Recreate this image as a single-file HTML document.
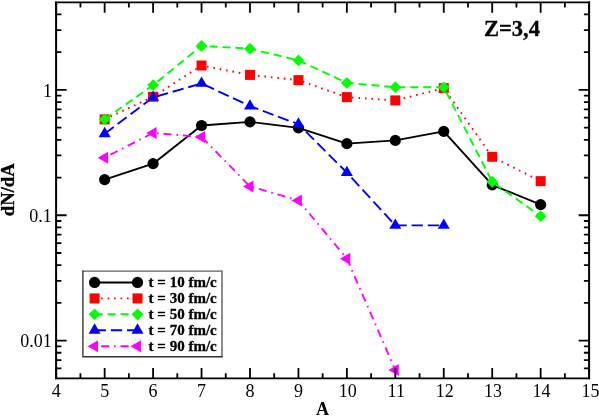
<!DOCTYPE html>
<html><head><meta charset="utf-8"><title>chart</title>
<style>html,body{margin:0;padding:0;background:#fff;}svg{display:block;will-change:transform;}</style>
</head><body>
<svg width="599" height="416" viewBox="0 0 599 416">
<rect width="599" height="416" fill="#ffffff"/>
<polyline points="104.65,179.65 153.09,163.65 201.54,125.50 249.98,121.90 298.43,127.90 346.87,143.65 395.32,140.40 443.76,131.40 492.21,184.90 540.65,204.65" fill="none" stroke="#000000" stroke-width="1.9" stroke-linejoin="round"/>
<circle cx="104.65" cy="179.65" r="5.6" fill="#000000"/>
<circle cx="153.09" cy="163.65" r="5.6" fill="#000000"/>
<circle cx="201.54" cy="125.50" r="5.6" fill="#000000"/>
<circle cx="249.98" cy="121.90" r="5.6" fill="#000000"/>
<circle cx="298.43" cy="127.90" r="5.6" fill="#000000"/>
<circle cx="346.87" cy="143.65" r="5.6" fill="#000000"/>
<circle cx="395.32" cy="140.40" r="5.6" fill="#000000"/>
<circle cx="443.76" cy="131.40" r="5.6" fill="#000000"/>
<circle cx="492.21" cy="184.90" r="5.6" fill="#000000"/>
<circle cx="540.65" cy="204.65" r="5.6" fill="#000000"/>
<polyline points="104.65,119.40 153.09,96.75 201.54,65.50 249.98,74.90 298.43,80.15 346.87,97.15 395.32,100.40 443.76,88.15 492.21,156.80 540.65,181.15" fill="none" stroke="#ff0000" stroke-width="1.9" stroke-dasharray="1.62 4.86" stroke-linejoin="round"/>
<rect x="99.65" y="114.40" width="10.0" height="10.0" fill="#ff0000"/>
<rect x="148.09" y="91.75" width="10.0" height="10.0" fill="#ff0000"/>
<rect x="196.54" y="60.50" width="10.0" height="10.0" fill="#ff0000"/>
<rect x="244.98" y="69.90" width="10.0" height="10.0" fill="#ff0000"/>
<rect x="293.43" y="75.15" width="10.0" height="10.0" fill="#ff0000"/>
<rect x="341.87" y="92.15" width="10.0" height="10.0" fill="#ff0000"/>
<rect x="390.32" y="95.40" width="10.0" height="10.0" fill="#ff0000"/>
<rect x="438.76" y="83.15" width="10.0" height="10.0" fill="#ff0000"/>
<rect x="487.21" y="151.80" width="10.0" height="10.0" fill="#ff0000"/>
<rect x="535.65" y="176.15" width="10.0" height="10.0" fill="#ff0000"/>
<polyline points="104.65,119.30 153.09,85.10 201.54,45.90 249.98,48.65 298.43,60.40 346.87,82.90 395.32,87.15 443.76,87.30 492.21,181.75 540.65,216.15" fill="none" stroke="#00ff00" stroke-width="1.9" stroke-dasharray="8.10 4.86" stroke-linejoin="round"/>
<path d="M98.75 119.30L104.65 113.40L110.55 119.30L104.65 125.20Z" fill="#00ff00"/>
<path d="M147.19 85.10L153.09 79.20L158.99 85.10L153.09 91.00Z" fill="#00ff00"/>
<path d="M195.64 45.90L201.54 40.00L207.44 45.90L201.54 51.80Z" fill="#00ff00"/>
<path d="M244.08 48.65L249.98 42.75L255.88 48.65L249.98 54.55Z" fill="#00ff00"/>
<path d="M292.53 60.40L298.43 54.50L304.33 60.40L298.43 66.30Z" fill="#00ff00"/>
<path d="M340.97 82.90L346.87 77.00L352.77 82.90L346.87 88.80Z" fill="#00ff00"/>
<path d="M389.42 87.15L395.32 81.25L401.22 87.15L395.32 93.05Z" fill="#00ff00"/>
<path d="M437.86 87.30L443.76 81.40L449.66 87.30L443.76 93.20Z" fill="#00ff00"/>
<path d="M486.31 181.75L492.21 175.85L498.11 181.75L492.21 187.65Z" fill="#00ff00"/>
<path d="M534.75 216.15L540.65 210.25L546.55 216.15L540.65 222.05Z" fill="#00ff00"/>
<polyline points="104.65,133.80 153.09,97.40 201.54,83.40 249.98,106.10 298.43,124.20 346.87,172.60 395.32,225.40 443.76,225.40" fill="none" stroke="#0000ff" stroke-width="1.9" stroke-dasharray="11.34 4.86" stroke-linejoin="round"/>
<path d="M104.65 126.87L98.65 137.26L110.65 137.26Z" fill="#0000ff"/>
<path d="M153.09 90.47L147.09 100.86L159.09 100.86Z" fill="#0000ff"/>
<path d="M201.54 76.47L195.54 86.86L207.54 86.86Z" fill="#0000ff"/>
<path d="M249.98 99.17L243.98 109.56L255.98 109.56Z" fill="#0000ff"/>
<path d="M298.43 117.27L292.43 127.66L304.43 127.66Z" fill="#0000ff"/>
<path d="M346.87 165.67L340.87 176.06L352.87 176.06Z" fill="#0000ff"/>
<path d="M395.32 218.47L389.32 228.86L401.32 228.86Z" fill="#0000ff"/>
<path d="M443.76 218.47L437.76 228.86L449.76 228.86Z" fill="#0000ff"/>
<polyline points="104.65,157.65 153.09,132.90 201.54,136.90 249.98,186.40 298.43,200.40 346.87,258.65 395.32,370.10" fill="none" stroke="#ff00ff" stroke-width="1.9" stroke-dasharray="1.62 4.86 8.10 4.86" stroke-linejoin="round"/>
<path d="M97.72 157.65L108.11 151.65L108.11 163.65Z" fill="#ff00ff"/>
<path d="M146.16 132.90L156.56 126.90L156.56 138.90Z" fill="#ff00ff"/>
<path d="M194.61 136.90L205.00 130.90L205.00 142.90Z" fill="#ff00ff"/>
<path d="M243.05 186.40L253.45 180.40L253.45 192.40Z" fill="#ff00ff"/>
<path d="M291.50 200.40L301.89 194.40L301.89 206.40Z" fill="#ff00ff"/>
<path d="M339.94 258.65L350.34 252.65L350.34 264.65Z" fill="#ff00ff"/>
<path d="M388.39 370.10L398.78 364.10L398.78 376.10Z" fill="#ff00ff"/>
<path d="M56.20 378.35v-10.4M56.20 2.3v10.4M80.42 378.35v-5.2M80.42 2.3v5.2M104.65 378.35v-10.4M104.65 2.3v10.4M128.87 378.35v-5.2M128.87 2.3v5.2M153.09 378.35v-10.4M153.09 2.3v10.4M177.31 378.35v-5.2M177.31 2.3v5.2M201.54 378.35v-10.4M201.54 2.3v10.4M225.76 378.35v-5.2M225.76 2.3v5.2M249.98 378.35v-10.4M249.98 2.3v10.4M274.20 378.35v-5.2M274.20 2.3v5.2M298.43 378.35v-10.4M298.43 2.3v10.4M322.65 378.35v-5.2M322.65 2.3v5.2M346.87 378.35v-10.4M346.87 2.3v10.4M371.10 378.35v-5.2M371.10 2.3v5.2M395.32 378.35v-10.4M395.32 2.3v10.4M419.54 378.35v-5.2M419.54 2.3v5.2M443.76 378.35v-10.4M443.76 2.3v10.4M467.99 378.35v-5.2M467.99 2.3v5.2M492.21 378.35v-10.4M492.21 2.3v10.4M516.43 378.35v-5.2M516.43 2.3v5.2M540.65 378.35v-10.4M540.65 2.3v10.4M564.88 378.35v-5.2M564.88 2.3v5.2M589.10 378.35v-10.4M589.10 2.3v10.4M56.2 368.42h5.2M589.1 368.42h-5.2M56.2 360.03h5.2M589.1 360.03h-5.2M56.2 352.76h5.2M589.1 352.76h-5.2M56.2 346.35h5.2M589.1 346.35h-5.2M56.2 340.62h10.4M589.1 340.62h-10.4M56.2 302.88h5.2M589.1 302.88h-5.2M56.2 280.81h5.2M589.1 280.81h-5.2M56.2 265.15h5.2M589.1 265.15h-5.2M56.2 253.00h5.2M589.1 253.00h-5.2M56.2 243.07h5.2M589.1 243.07h-5.2M56.2 234.68h5.2M589.1 234.68h-5.2M56.2 227.41h5.2M589.1 227.41h-5.2M56.2 221.00h5.2M589.1 221.00h-5.2M56.2 215.27h10.4M589.1 215.27h-10.4M56.2 177.53h5.2M589.1 177.53h-5.2M56.2 155.46h5.2M589.1 155.46h-5.2M56.2 139.80h5.2M589.1 139.80h-5.2M56.2 127.65h5.2M589.1 127.65h-5.2M56.2 117.72h5.2M589.1 117.72h-5.2M56.2 109.33h5.2M589.1 109.33h-5.2M56.2 102.06h5.2M589.1 102.06h-5.2M56.2 95.65h5.2M589.1 95.65h-5.2M56.2 89.92h10.4M589.1 89.92h-10.4M56.2 52.18h5.2M589.1 52.18h-5.2M56.2 30.11h5.2M589.1 30.11h-5.2M56.2 14.45h5.2M589.1 14.45h-5.2" stroke="#000" stroke-width="1.8" fill="none"/>
<path d="M55.2 2.3H590.1M55.2 378.35H590.1" stroke="#000" stroke-width="1.75" fill="none"/>
<path d="M56.1 1.4499999999999997V379.35M589.1 1.4499999999999997V379.35" stroke="#000" stroke-width="2.0" fill="none"/>
<g font-family="'Liberation Serif', serif" font-size="18px" fill="#000">
<text x="56.20" y="396.6" text-anchor="middle">4</text>
<text x="104.65" y="396.6" text-anchor="middle">5</text>
<text x="153.09" y="396.6" text-anchor="middle">6</text>
<text x="201.54" y="396.6" text-anchor="middle">7</text>
<text x="249.98" y="396.6" text-anchor="middle">8</text>
<text x="298.43" y="396.6" text-anchor="middle">9</text>
<text x="347.77" y="396.6" text-anchor="middle">10</text>
<text x="396.22" y="396.6" text-anchor="middle">11</text>
<text x="444.66" y="396.6" text-anchor="middle">12</text>
<text x="493.11" y="396.6" text-anchor="middle">13</text>
<text x="541.55" y="396.6" text-anchor="middle">14</text>
<text x="590.60" y="396.6" text-anchor="middle">15</text>
<text x="52.05" y="97.12" text-anchor="end">1</text>
<text x="51.70" y="221.67" text-anchor="end">0.1</text>
<text x="51.70" y="347.12" text-anchor="end">0.01</text>
</g>
<g font-family="'Liberation Serif', serif" font-weight="bold" fill="#000">
<text x="322.6" y="414.5" font-size="18px" text-anchor="middle">A</text>
<text transform="translate(14,189.75) rotate(-90)" font-size="18.7px" stroke="#000" stroke-width="0.3" text-anchor="middle">dN/dA</text>
<text x="484.0" y="35.5" font-size="22.5px" stroke="#000" stroke-width="0.3">Z=3,4</text>
</g>
<rect x="82.9" y="271.1" width="139.1" height="85.6" fill="#fff"/>
<path d="M82.3 271.1H222.7M222.0 270.5V357.3" stroke="#5e5e5e" stroke-width="1.4" fill="none"/>
<path d="M82.9 270.5V357.3M82.3 356.7H222.7" stroke="#333" stroke-width="1.35" fill="none"/>
<path d="M94.6 282.45H137.5" stroke="#000000" stroke-width="1.9" fill="none"/>
<circle cx="94.60" cy="282.45" r="5.6" fill="#000000"/>
<circle cx="137.50" cy="282.45" r="5.6" fill="#000000"/>
<path d="M94.6 298.4H137.5" stroke="#ff0000" stroke-width="1.9" stroke-dasharray="1.62 4.86" fill="none"/>
<rect x="89.60" y="293.40" width="10.0" height="10.0" fill="#ff0000"/>
<rect x="132.50" y="293.40" width="10.0" height="10.0" fill="#ff0000"/>
<path d="M94.6 314.3H137.5" stroke="#00ff00" stroke-width="1.9" stroke-dasharray="8.10 4.86" fill="none"/>
<path d="M88.70 314.30L94.60 308.40L100.50 314.30L94.60 320.20Z" fill="#00ff00"/>
<path d="M131.60 314.30L137.50 308.40L143.40 314.30L137.50 320.20Z" fill="#00ff00"/>
<path d="M94.6 330.2H137.5" stroke="#0000ff" stroke-width="1.9" stroke-dasharray="11.34 4.86" fill="none"/>
<path d="M94.60 323.27L88.60 333.66L100.60 333.66Z" fill="#0000ff"/>
<path d="M137.50 323.27L131.50 333.66L143.50 333.66Z" fill="#0000ff"/>
<path d="M94.6 346.25H137.5" stroke="#ff00ff" stroke-width="1.9" stroke-dasharray="1.62 4.86 8.10 4.86" fill="none"/>
<path d="M87.67 346.25L98.06 340.25L98.06 352.25Z" fill="#ff00ff"/>
<path d="M130.57 346.25L140.96 340.25L140.96 352.25Z" fill="#ff00ff"/>
<g font-family="'Liberation Serif', serif" font-weight="bold" font-size="15px" fill="#000" stroke="#000" stroke-width="0.3">
<text x="148.6" y="287.40">t = 10 fm/c</text>
<text x="148.6" y="303.35">t = 30 fm/c</text>
<text x="148.6" y="319.25">t = 50 fm/c</text>
<text x="148.6" y="335.15">t = 70 fm/c</text>
<text x="148.6" y="351.20">t = 90 fm/c</text>
</g>
</svg>
</body></html>
